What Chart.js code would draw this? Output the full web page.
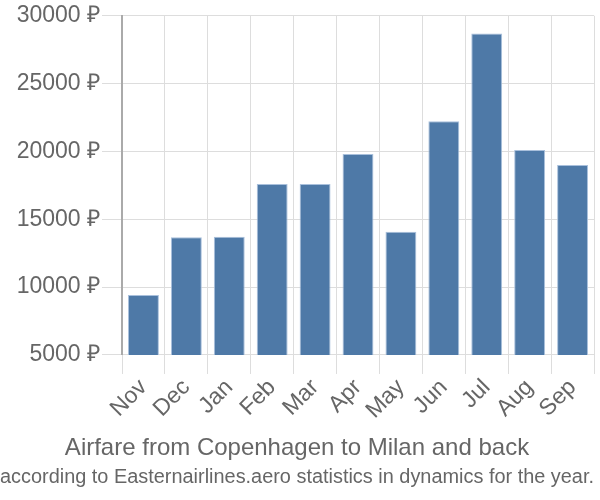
<!DOCTYPE html>
<html>
<head>
<meta charset="utf-8">
<script src="https://cdn.jsdelivr.net/npm/chart.js@4/dist/chart.umd.min.js"></script>
<style>
  html, body { margin: 0; padding: 0; background: #fff; }
  #wrap { width: 600px; height: 500px; }
</style>
</head>
<body>
<div id="wrap"><canvas id="fareChart" width="600" height="500"></canvas></div>
<script>
const MONTHS = ['Nov', 'Dec', 'Jan', 'Feb', 'Mar', 'Apr', 'May', 'Jun', 'Jul', 'Aug', 'Sep'];
const FARES  = [9420, 13670, 13720, 17610, 17610, 19810, 14090, 22230, 28700, 20100, 19000];
const Y_TICKS = [5000, 10000, 15000, 20000, 25000, 30000];

const TITLE    = 'Airfare from Copenhagen to Milan and back';
const SUBTITLE = 'according to Easternairlines.aero statistics in dynamics for the year.';

Chart.defaults.font.family = '"Liberation Sans", Arial, sans-serif';
Chart.defaults.color = '#666';

const ctx = document.getElementById('fareChart').getContext('2d');
new Chart(ctx, {
  type: 'bar',
  data: {
    labels: MONTHS,
    datasets: [{
      data: FARES,
      backgroundColor: '#4e79a7',
      borderColor: '#a9c0dc',
      borderWidth: 1,
      categoryPercentage: 0.72,
      barPercentage: 1,
    }],
  },
  options: {
    responsive: false,
    animation: false,
    layout: { padding: { left: 0, right: 6, top: 3, bottom: 0 } },
    plugins: {
      legend: { display: false },
      tooltip: { enabled: false },
      title: {
        display: true,
        position: 'bottom',
        weight: 1000,
        text: TITLE,
        color: '#666',
        font: { size: 24, weight: 'normal' },
        padding: { top: 10, bottom: 2 },
      },
      subtitle: {
        display: true,
        position: 'bottom',
        weight: 1500,
        text: SUBTITLE,
        color: '#666',
        font: { size: 20, weight: 'normal' },
        padding: { top: 0, bottom: 11 },
      },
    },
    scales: {
      x: {
        grid: { color: '#ddd', lineWidth: 1, tickLength: 19, offset: true },
        border: { display: false },
        ticks: {
          color: '#666',
          font: { size: 23 },
          autoSkip: false,
          maxRotation: 45,
          minRotation: 45,
          padding: 0,
        },
      },
      y: {
        min: 5000,
        max: 30000,
        afterBuildTicks: axis => { axis.ticks = Y_TICKS.map(v => ({ value: v })); },
        afterFit: axis => { axis.width = 122; },
        grid: { color: '#ddd', lineWidth: 1, tickLength: 20 },
        border: { color: '#aaa', width: 2 },
        ticks: {
          color: '#666',
          font: { size: 23 },
          padding: 2,
          callback: v => `${v} ₽`,
        },
      },
    },
  },
});
</script>
</body>
</html>
